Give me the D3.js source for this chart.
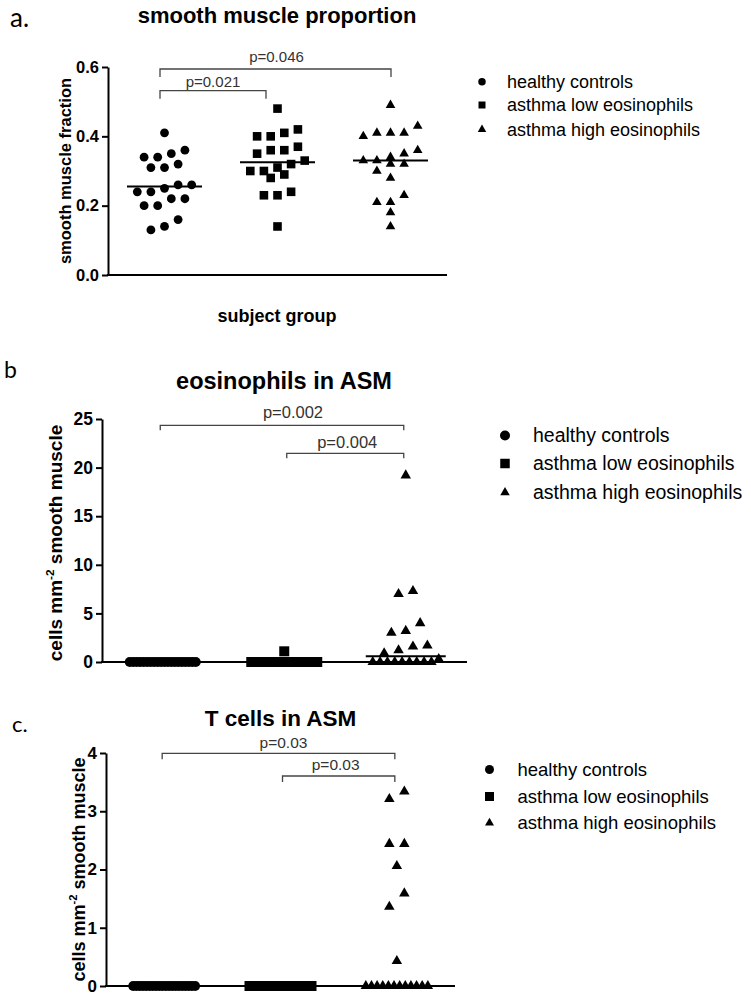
<!DOCTYPE html>
<html><head><meta charset="utf-8">
<script src="https://cdn.jsdelivr.net/npm/d3@7"></script>
<style>body{margin:0;background:#fff} svg{display:block}</style>
</head><body>
<svg id="chart" width="751" height="1001"></svg>
<script>
// ---------------- DATA ----------------
const groups = ["healthy controls", "asthma low eosinophils", "asthma high eosinophils"];

// panel a: smooth muscle proportion
const smHealthy = [0.41, 0.36, 0.35, 0.34, 0.34, 0.32, 0.31, 0.31, 0.26, 0.26, 0.25, 0.24, 0.24, 0.22, 0.22, 0.20, 0.20, 0.16, 0.14, 0.13];
const smLow     = [0.48, 0.42, 0.41, 0.40, 0.40, 0.37, 0.36, 0.36, 0.35, 0.33, 0.32, 0.31, 0.30, 0.30, 0.29, 0.28, 0.24, 0.23, 0.23, 0.14];
const smHigh    = [0.49, 0.43, 0.41, 0.41, 0.41, 0.40, 0.36, 0.35, 0.34, 0.33, 0.33, 0.32, 0.32, 0.30, 0.28, 0.23, 0.21, 0.21, 0.18, 0.14];
const smTicks = [0.0, 0.2, 0.4, 0.6];
const smTickLabels = ["0.0", "0.2", "0.4", "0.6"];
const smPvals = [{from: 0, to: 1, label: "p=0.021"}, {from: 0, to: 2, label: "p=0.046"}];

// panel b: eosinophils in ASM
const eoHealthy = [0, 0, 0, 0, 0, 0, 0, 0, 0, 0, 0, 0, 0, 0, 0, 0, 0, 0, 0, 0];
const eoLow     = [1.1, 0, 0, 0, 0, 0, 0, 0, 0, 0, 0, 0, 0, 0, 0, 0, 0, 0, 0, 0];
const eoHigh    = [19.2, 7.3, 7.0, 4.0, 3.2, 3.0, 1.7, 1.6, 1.2, 0.9, 0.3, 0, 0, 0, 0, 0, 0, 0, 0, 0];
const eoTicks = [0, 5, 10, 15, 20, 25];
const eoTickLabels = ["0", "5", "10", "15", "20", "25"];
const eoPvals = [{from: 0, to: 2, label: "p=0.002"}, {from: 1, to: 2, label: "p=0.004"}];

// panel c: T cells in ASM
const tHealthy = [0, 0, 0, 0, 0, 0, 0, 0, 0, 0, 0, 0, 0, 0, 0, 0, 0, 0, 0, 0];
const tLow     = [0, 0, 0, 0, 0, 0, 0, 0, 0, 0, 0, 0, 0, 0, 0, 0, 0, 0, 0, 0];
const tHigh    = [3.34, 3.21, 2.44, 2.44, 2.06, 1.59, 1.36, 0.43, 0, 0, 0, 0, 0, 0, 0, 0, 0, 0, 0, 0];
const tTicks = [0, 1, 2, 3, 4];
const tTickLabels = ["0", "1", "2", "3", "4"];
const tPvals = [{from: 0, to: 2, label: "p=0.03"}, {from: 1, to: 2, label: "p=0.03"}];

// ---------------- LAYOUT ----------------
const svg = d3.select("#chart");
const SANS = "'Liberation Sans', Arial, sans-serif";
const shapes = [d3.symbolCircle, d3.symbolSquare, d3.symbolTriangle];

function symSize(type, w) {
  if (type === d3.symbolCircle) return Math.PI * w * w / 4;
  if (type === d3.symbolSquare) return w * w;
  const y = w / (2 * Math.sqrt(3));
  return y * y * 3 * Math.sqrt(3);
}

// row-based scatter-dot layout: values close in y share a row, row is centred
function swarm(values, yScale, opt) {
  const pts = values.map(v => ({v, y: yScale(v), dx: 0}));
  const sorted = pts.slice().sort((a, b) => a.y - b.y);
  const rows = [];
  let cur = null;
  for (const p of sorted) {
    if (!cur || p.y - cur.top >= opt.rowH) { cur = {top: p.y, items: []}; rows.push(cur); }
    cur.items.push(p);
  }
  for (const r of rows) {
    const n = r.items.length;
    const items = r.items.slice().sort((a, b) => a.v - b.v);
    const sp = n > 1 ? Math.min(opt.colW, 2 * opt.maxHalf / (n - 1)) : 0;
    items.forEach((p, i) => { p.dx = (i - (n - 1) / 2) * sp; });
  }
  return pts;
}

function drawPanel(cfg) {
  const g = svg.append("g");
  const x = d3.scaleBand().domain(groups).range([cfg.x0, cfg.x1]).paddingInner(0).paddingOuter(0);
  const y = d3.scaleLinear().domain(cfg.domain).range([cfg.y0, cfg.y1]);

  g.append("text").attr("x", cfg.letterX).attr("y", cfg.letterY)
    .attr("font-family", "Lato, 'Open Sans', sans-serif").attr("font-size", cfg.letterSize)
    .text(cfg.letter);
  g.append("text").attr("x", cfg.titleX).attr("y", cfg.titleY).attr("text-anchor", "middle")
    .attr("font-family", SANS).attr("font-weight", "bold").attr("font-size", cfg.titleSize)
    .text(cfg.title);

  const ya = g.append("g").attr("transform", `translate(${cfg.x0},0)`)
    .call(d3.axisLeft(y).tickValues(cfg.ticks).tickFormat((d, i) => cfg.tickLabels[i])
      .tickSize(6).tickSizeOuter(0).tickPadding(cfg.tickPad));
  ya.selectAll("path, line").attr("stroke", "#000").attr("stroke-width", 2);
  ya.selectAll("text").attr("font-family", SANS).attr("font-weight", "bold")
    .attr("font-size", cfg.tickSize).attr("fill", "#000");

  const xa = g.append("g").attr("transform", `translate(0,${y(0)})`)
    .call(d3.axisBottom(x).tickValues([]).tickSizeOuter(0));
  xa.select("path").attr("stroke", "#000").attr("stroke-width", 2)
    .attr("d", `M${cfg.x0 - 1},0H${cfg.xAxisEnd}`);

  const yl = g.append("text")
    .attr("transform", `translate(${cfg.ylabX},${cfg.ylabY}) rotate(-90)`)
    .attr("text-anchor", "middle").attr("font-family", SANS).attr("font-weight", "bold")
    .attr("font-size", cfg.ylabSize);
  if (cfg.ylabSup) {
    yl.append("tspan").text(cfg.ylab[0]);
    yl.append("tspan").attr("dy", -cfg.ylabSize * 0.42).attr("font-size", cfg.ylabSize * 0.62).text(cfg.ylabSup);
    yl.append("tspan").attr("dy", cfg.ylabSize * 0.42).text(cfg.ylab[1]);
  } else {
    yl.text(cfg.ylab);
  }
  if (cfg.xlab) {
    g.append("text").attr("x", cfg.xlabX).attr("y", cfg.xlabY).attr("text-anchor", "middle")
      .attr("font-family", SANS).attr("font-weight", "bold").attr("font-size", cfg.xlabSize)
      .text(cfg.xlab);
  }

  cfg.series.forEach((vals, gi) => {
    const cx = x(groups[gi]) + x.bandwidth() / 2;
    const pts = swarm(vals, y, cfg.swarm);
    const sym = d3.symbol().type(shapes[gi]).size(symSize(shapes[gi], cfg.markW[gi]));
    g.append("g").selectAll("path").data(pts).join("path")
      .attr("transform", p => `translate(${cx + p.dx},${p.y})`)
      .attr("d", sym).attr("fill", "#000");
    const med = d3.median(vals);
    g.append("line").attr("x1", cx - cfg.medHalf).attr("x2", cx + cfg.medHalf)
      .attr("y1", y(med)).attr("y2", y(med)).attr("stroke", "#000").attr("stroke-width", 2);
  });

  cfg.pvals.forEach((p, i) => {
    const b = cfg.brackets[i];
    const xa1 = x(groups[p.from]) + x.bandwidth() / 2 + b.dx1;
    const xa2 = x(groups[p.to]) + x.bandwidth() / 2 + b.dx2;
    g.append("path")
      .attr("d", `M${xa1},${b.y + cfg.bracketDrop}V${b.y}H${xa2}V${b.y + cfg.bracketDrop}`)
      .attr("fill", "none").attr("stroke", "#444").attr("stroke-width", 1.3);
    g.append("text").attr("x", (xa1 + xa2) / 2 + b.tdx).attr("y", b.ty).attr("text-anchor", "middle")
      .attr("font-family", SANS).attr("font-size", cfg.pSize).attr("fill", "#333")
      .text(p.label);
  });

  const lg = g.append("g");
  groups.forEach((name, gi) => {
    const yy = cfg.legRows[gi];
    lg.append("path").attr("transform", `translate(${cfg.legSymX},${yy})`)
      .attr("d", d3.symbol().type(shapes[gi]).size(symSize(shapes[gi], cfg.legMarkW[gi])))
      .attr("fill", "#000");
    lg.append("text").attr("x", cfg.legTextX).attr("y", yy).attr("dy", "0.35em")
      .attr("font-family", SANS).attr("font-size", cfg.legSize).attr("fill", "#000")
      .text(name);
  });
}

drawPanel({
  letter: "a.", letterX: 10, letterY: 27, letterSize: 26,
  title: "smooth muscle proportion", titleX: 277, titleY: 23, titleSize: 22,
  x0: 108, x1: 447, xAxisEnd: 447, y0: 275, y1: 67, domain: [0, 0.6],
  ticks: smTicks, tickLabels: smTickLabels, tickSize: 16.5, tickPad: 3,
  ylab: "smooth muscle fraction", ylabX: 70.5, ylabY: 171, ylabSize: 16.5,
  xlab: "subject group", xlabX: 277, xlabY: 322, xlabSize: 18,
  series: [smHealthy, smLow, smHigh], markW: [8.8, 8.6, 9.6],
  swarm: {rowH: 13, colW: 13.6, maxHalf: 32},
  medHalf: 37.5,
  pvals: smPvals, pSize: 15, bracketDrop: 8,
  brackets: [{y: 90.7, dx1: -4.5, dx2: -11.5, ty: 87, tdx: 0}, {y: 69, dx1: -4.5, dx2: 0.5, ty: 62, tdx: 1}],
  legSymX: 482, legTextX: 507, legRows: [81.7, 105, 129.5], legMarkW: [7.5, 7, 8.5], legSize: 18
});

drawPanel({
  letter: "b", letterX: 4, letterY: 378, letterSize: 23,
  title: "eosinophils in ASM", titleX: 284, titleY: 389, titleSize: 23.5,
  x0: 102, x1: 466.5, xAxisEnd: 467, y0: 662, y1: 419, domain: [0, 25],
  ticks: eoTicks, tickLabels: eoTickLabels, tickSize: 17.5, tickPad: 3,
  ylab: ["cells mm", " smooth muscle"], ylabSup: "-2", ylabX: 61.5, ylabY: 543, ylabSize: 19,
  series: [eoHealthy, eoLow, eoHigh], markW: [10, 10, 10.5],
  swarm: {rowH: 10.5, colW: 14.4, maxHalf: 33},
  medHalf: 40,
  pvals: eoPvals, pSize: 16.5, bracketDrop: 5,
  brackets: [{y: 425.3, dx1: -2.5, dx2: -2, ty: 418, tdx: 11}, {y: 453.3, dx1: 2.5, dx2: -2, ty: 447.5, tdx: 2}],
  legSymX: 505, legTextX: 533, legRows: [435.5, 463.5, 492.5], legMarkW: [10, 9.5, 9.5], legSize: 19.5
});

drawPanel({
  letter: "c.", letterX: 12, letterY: 732, letterSize: 22,
  title: "T cells in ASM", titleX: 280.5, titleY: 726, titleSize: 22.5,
  x0: 106, x1: 455, xAxisEnd: 455, y0: 986, y1: 753, domain: [0, 4],
  ticks: tTicks, tickLabels: tTickLabels, tickSize: 17, tickPad: 3,
  ylab: ["cells mm", " smooth muscle"], ylabSup: "-2", ylabX: 85, ylabY: 869.5, ylabSize: 18,
  series: [tHealthy, tLow, tHigh], markW: [9.8, 10, 10.5],
  swarm: {rowH: 14.5, colW: 15, maxHalf: 31},
  medHalf: 38,
  pvals: tPvals, pSize: 15.5, bracketDrop: 6,
  brackets: [{y: 753.3, dx1: -2, dx2: -2, ty: 748, tdx: 5}, {y: 776, dx1: 2, dx2: -2, ty: 769.5, tdx: -3}],
  legSymX: 489.5, legTextX: 517.5, legRows: [769.5, 796.5, 823], legMarkW: [9, 9, 9], legSize: 18.5
});
</script>
</body></html>
